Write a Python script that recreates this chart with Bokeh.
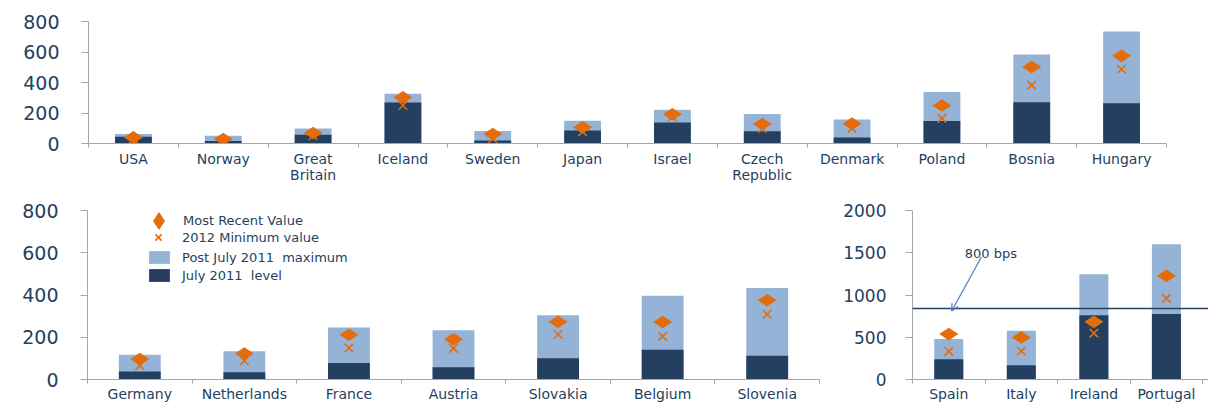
from math import pi
from bokeh.plotting import figure
from bokeh.models import (Range1d, FixedTicker, ColumnDataSource, Legend, LegendItem,
                          Span, Arrow, OpenHead, Label)
from bokeh.layouts import column, row
from bokeh.embed import file_html
from bokeh.resources import INLINE

# ---------------- data ----------------
top_countries = ["USA", "Norway", "Great\nBritain", "Iceland", "Sweden", "Japan", "Israel",
                 "Czech\nRepublic", "Denmark", "Poland", "Bosnia", "Hungary"]
top_july2011 = [44, 16, 57, 269, 20, 86, 137, 80, 40, 148, 271, 264]
top_postmax = [62, 51, 99, 326, 82, 150, 221, 194, 157, 337, 584, 734]
top_recent = [40, 29, 69, 302, 62, 106, 192, 128, 130, 249, 502, 575]
top_min2012 = [30, 22, 51, 249, 33, 77, 175, 99, 99, 165, 383, 487]

mid_countries = ["Germany", "Netherlands", "France", "Austria", "Slovakia", "Belgium", "Slovenia"]
mid_july2011 = [38, 34, 78, 58, 101, 141, 112]
mid_postmax = [117, 134, 246, 233, 304, 396, 433]
mid_recent = [97, 123, 212, 190, 273, 272, 375]
mid_min2012 = [66, 89, 149, 147, 213, 204, 309]

right_countries = ["Spain", "Italy", "Ireland", "Portugal"]
right_july2011 = [239, 168, 760, 776]
right_postmax = [478, 576, 1247, 1600]
right_recent = [537, 498, 682, 1227]
right_min2012 = [333, 337, 549, 960]

threshold_value = 840
threshold_label = "800 bps"

top_yticks = [0, 200, 400, 600, 800]
mid_yticks = [0, 200, 400, 600, 800]
right_yticks = [0, 500, 1000, 1500, 2000]

# ---------------- style ----------------
NAVY = "#243f60"
LIGHT = "#95b3d7"
ORANGE = "#e46c0a"
AXIS = "#a6a6a6"
TEXT = "#243f60"
FONT = "DejaVu Sans"


def panel(countries, july, postmax, recent, min2012, ymax, yticks, width, height,
          bl, br, bt, bb, ysize, xsize, ystand, xstand, bar_w, xpad=0.0):
    n = len(countries)
    xs = [i + 0.5 for i in range(n)]
    src = ColumnDataSource(dict(x=xs, july=july, postmax=postmax, recent=recent, min2012=min2012))
    p = figure(width=width, height=height, x_range=Range1d(0, n + xpad), y_range=Range1d(0, ymax),
               output_backend="svg", toolbar_location=None,
               min_border_left=bl, min_border_right=br, min_border_top=bt, min_border_bottom=bb)
    p.outline_line_color = None
    p.xgrid.visible = False
    p.ygrid.visible = False
    p.background_fill_color = "white"
    p.border_fill_color = "white"

    r_max = p.vbar(x="x", top="postmax", bottom=0, width=bar_w, source=src,
                   fill_color=LIGHT, line_color=None)
    r_jul = p.vbar(x="x", top="july", bottom=0, width=bar_w, source=src,
                   fill_color=NAVY, line_color=None)
    r_min = p.scatter(x="x", y="min2012", marker="x", size=12, line_color=ORANGE,
                      line_width=1.6, source=src)
    r_rec = p.scatter(x="x", y="recent", marker="diamond", angle=pi / 2, size=19,
                      fill_color=ORANGE, line_color=None, source=src)

    yax = p.yaxis[0]
    yax.ticker = FixedTicker(ticks=yticks, minor_ticks=[])
    yax.axis_line_color = AXIS
    yax.major_tick_line_color = AXIS
    yax.major_tick_out = 7
    yax.major_tick_in = 0
    yax.minor_tick_line_color = None
    yax.major_label_text_font = FONT
    yax.major_label_text_font_size = ysize
    yax.major_label_text_color = TEXT
    yax.major_label_standoff = ystand

    xax = p.xaxis[0]
    xax.ticker = FixedTicker(ticks=xs, minor_ticks=list(range(n + 1)))
    xax.major_label_overrides = {x: c for x, c in zip(xs, countries)}
    xax.axis_line_color = AXIS
    xax.major_tick_line_color = None
    xax.minor_tick_line_color = AXIS
    xax.minor_tick_out = 4
    xax.minor_tick_in = 0
    xax.major_label_text_font = FONT
    xax.major_label_text_font_size = xsize
    xax.major_label_text_color = TEXT
    xax.major_label_text_line_height = 1.0
    xax.major_label_standoff = xstand
    return p, (r_max, r_jul, r_min, r_rec)


p1, _ = panel(top_countries, top_july2011, top_postmax, top_recent, top_min2012, 800, top_yticks,
              1208, 190, 88, 42, 21, 47, "19px", "14px", 22, 1, 0.41)

p2, (m_max, m_jul, m_min, m_rec) = panel(mid_countries, mid_july2011, mid_postmax, mid_recent,
                                         mid_min2012, 800, mid_yticks, 840, 214, 87, 21, 20, 23,
                                         "19px", "14px", 22, 0, 0.40)

p3, _ = panel(right_countries, right_july2011, right_postmax, right_recent, right_min2012, 2000,
              right_yticks, 368, 214, 68, 0, 20, 21, "17px", "14px", 19, 0, 0.40, xpad=0.08)

# legends (bottom-left panel)
common = dict(background_fill_alpha=0, border_line_color=None, padding=0, margin=0,
              label_text_font=FONT, label_text_font_size="13px", label_text_color=TEXT)
leg_a = Legend(items=[LegendItem(label="Most Recent Value", renderers=[m_rec])],
               location=(49, 136), glyph_width=45, glyph_height=45, label_height=45,
               label_standoff=2, **common)
leg_b = Legend(items=[LegendItem(label="2012 Minimum value", renderers=[m_min])],
               location=(60, 131), glyph_width=22, glyph_height=22, label_height=22,
               label_standoff=13, **common)
leg_c = Legend(items=[LegendItem(label="Post July 2011  maximum", renderers=[m_max]),
                      LegendItem(label="July 2011  level", renderers=[m_jul])],
               location=(59, 96), glyph_width=26, glyph_height=16, label_height=16,
               spacing=2, label_standoff=10, **common)
for lg in (leg_a, leg_b, leg_c):
    p2.add_layout(lg)

# threshold line + annotation (bottom-right panel)
p3.add_layout(Span(location=threshold_value, dimension="width", line_color=NAVY, line_width=1.5))
p3.add_layout(Arrow(end=OpenHead(size=7, line_color="#4a7ebb", line_width=1.2),
                    x_start=0.95, y_start=1450, x_end=0.54, y_end=810,
                    line_color="#4a7ebb", line_width=1.2))
p3.add_layout(Label(x=0.72, y=1490, text=threshold_label, text_font=FONT, text_font_size="13px",
                    text_color=TEXT, text_baseline="middle"))

layout = column(p1, row(p2, p3, spacing=0), spacing=0)
open("out.html", "w").write(file_html(layout, INLINE))
